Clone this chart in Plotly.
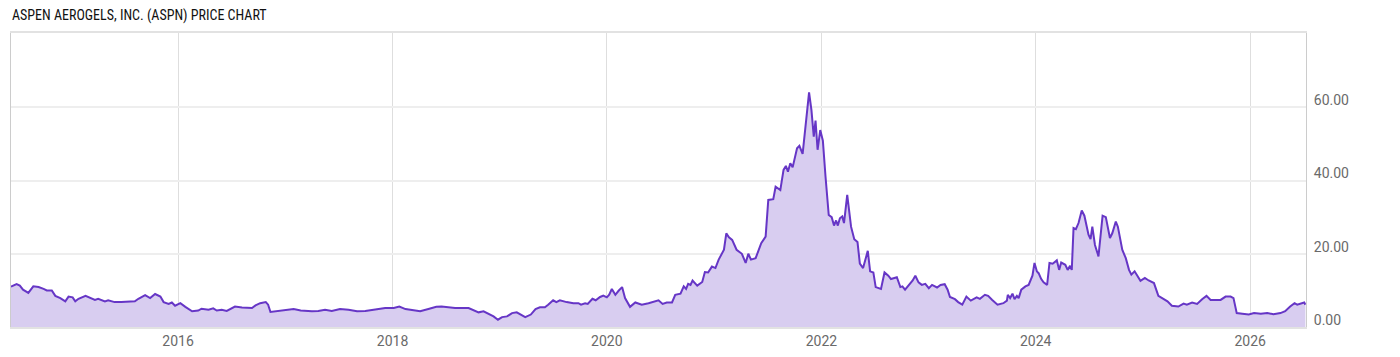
import plotly.graph_objects as go

title_text = "ASPEN AEROGELS, INC. (ASPN) PRICE CHART"

dates = [
    "2014-06-11", "2014-06-13", "2014-06-30", "2014-07-11", "2014-07-22", "2014-08-09", "2014-08-26",
    "2014-09-13", "2014-09-30", "2014-10-11", "2014-10-28", "2014-11-09", "2014-11-26", "2014-12-13",
    "2014-12-24", "2015-01-07", "2015-01-16", "2015-01-27", "2015-02-20", "2015-03-07", "2015-03-24",
    "2015-04-04", "2015-04-27", "2015-05-08", "2015-05-30", "2015-06-22", "2015-07-15", "2015-08-07",
    "2015-08-19", "2015-09-11", "2015-09-28", "2015-10-15", "2015-11-02", "2015-11-13", "2015-11-30",
    "2015-12-11", "2015-12-22", "2016-01-09", "2016-01-26", "2016-02-18", "2016-03-10", "2016-03-21",
    "2016-04-14", "2016-04-30", "2016-05-12", "2016-05-29", "2016-06-15", "2016-06-27",
    "2016-07-13", "2016-08-06", "2016-09-09", "2016-09-21", "2016-10-07", "2016-10-26", "2016-11-03",
    "2016-11-11", "2016-11-28", "2016-12-20", "2017-01-29", "2017-02-22", "2017-04-01", "2017-04-23",
    "2017-05-16", "2017-06-08", "2017-07-06", "2017-08-04", "2017-09-02", "2017-09-30", "2017-11-04",
    "2017-12-07", "2018-01-05", "2018-01-24", "2018-02-14", "2018-03-07", "2018-04-05", "2018-05-03",
    "2018-05-30", "2018-06-17", "2018-07-10",
    "2018-08-02", "2018-09-17", "2018-10-04", "2018-10-21", "2018-11-07", "2018-11-24", "2018-12-11",
    "2018-12-26", "2019-01-09", "2019-01-26", "2019-02-12", "2019-02-28", "2019-03-16", "2019-03-29",
    "2019-04-17", "2019-05-03", "2019-05-18", "2019-06-04", "2019-06-15", "2019-07-02", "2019-07-13",
    "2019-07-25", "2019-08-17", "2019-09-09", "2019-09-26", "2019-10-05", "2019-10-19", "2019-10-28",
    "2019-11-13", "2019-11-24", "2019-12-09", "2019-12-20", "2020-01-01", "2020-01-09", "2020-01-18",
    "2020-01-30", "2020-02-10", "2020-02-22", "2020-03-03", "2020-03-20", "2020-04-07", "2020-04-29",
    "2020-05-22", "2020-06-08", "2020-06-25", "2020-07-09", "2020-07-23",
    "2020-08-10", "2020-08-21", "2020-09-08", "2020-09-19", "2020-09-27", "2020-10-04", "2020-10-12",
    "2020-10-19", "2020-11-04", "2020-11-21", "2020-11-30", "2020-12-11", "2020-12-24", "2021-01-05",
    "2021-01-16", "2021-02-03", "2021-02-11", "2021-02-20", "2021-03-03", "2021-03-18", "2021-04-05",
    "2021-04-18", "2021-04-27", "2021-05-06", "2021-05-22", "2021-06-10", "2021-06-25", "2021-07-04",
    "2021-07-21", "2021-07-29", "2021-08-14", "2021-08-25", "2021-09-02", "2021-09-09", "2021-09-17",
    "2021-09-25", "2021-10-10", "2021-10-18", "2021-10-29", "2021-11-08", "2021-11-20", "2021-11-28",
    "2021-12-06", "2021-12-12", "2021-12-19", "2021-12-28", "2022-01-06", "2022-01-15", "2022-01-26",
    "2022-02-05", "2022-02-13", "2022-02-20", "2022-02-26", "2022-03-05", "2022-03-13", "2022-03-19",
    "2022-03-30", "2022-04-12", "2022-04-23", "2022-05-04", "2022-05-12", "2022-05-23", "2022-06-08",
    "2022-06-16", "2022-06-27", "2022-07-05", "2022-07-23", "2022-08-04", "2022-08-17",
    "2022-08-26", "2022-09-10", "2022-09-15", "2022-09-27", "2022-10-04", "2022-10-13", "2022-10-30",
    "2022-11-08", "2022-11-17", "2022-11-28", "2022-12-09", "2022-12-21", "2023-01-02", "2023-01-13",
    "2023-01-30", "2023-02-11", "2023-02-25", "2023-03-07", "2023-03-15", "2023-04-01", "2023-04-12",
    "2023-04-26", "2023-05-10", "2023-05-25", "2023-06-14", "2023-06-25", "2023-07-12", "2023-07-23",
    "2023-08-06", "2023-08-24", "2023-09-13", "2023-09-25", "2023-09-28", "2023-10-06", "2023-10-14",
    "2023-10-21", "2023-10-29", "2023-11-04", "2023-11-13", "2023-11-27", "2023-12-08", "2023-12-17",
    "2023-12-21", "2023-12-28", "2024-01-05", "2024-01-11", "2024-01-20", "2024-01-28", "2024-02-09",
    "2024-02-17", "2024-02-28", "2024-03-13", "2024-03-21", "2024-03-28", "2024-04-11", "2024-04-19",
    "2024-04-27", "2024-05-03", "2024-05-09", "2024-05-17", "2024-05-26", "2024-06-06", "2024-06-15",
    "2024-06-29", "2024-07-06", "2024-07-12", "2024-07-21", "2024-08-02", "2024-08-16", "2024-08-27",
    "2024-09-10", "2024-09-18", "2024-09-30", "2024-10-07", "2024-10-22", "2024-11-03", "2024-11-14",
    "2024-11-22", "2024-12-03", "2024-12-23", "2025-01-07", "2025-01-20", "2025-02-07", "2025-02-22",
    "2025-03-11", "2025-03-25", "2025-04-09", "2025-05-01", "2025-05-19", "2025-05-30", "2025-06-17",
    "2025-07-04", "2025-07-21", "2025-08-05", "2025-08-19", "2025-09-05", "2025-09-22", "2025-10-09",
    "2025-10-26", "2025-11-05", "2025-11-16", "2025-12-05", "2025-12-27", "2026-01-14", "2026-02-06",
    "2026-02-28", "2026-03-21", "2026-04-14", "2026-04-30", "2026-05-17", "2026-06-01", "2026-06-10",
    "2026-06-23", "2026-07-04", "2026-07-08",
]

close_prices = [
    11.0, 11.1, 11.7, 11.3, 10.2, 9.3, 11.1,
    10.9, 10.4, 10.0, 10.0, 8.5, 7.9, 7.0,
    8.3, 8.1, 7.0, 7.7, 8.5, 7.9, 7.4,
    7.7, 7.0, 7.3, 6.8, 6.8, 6.8, 7.0,
    7.7, 8.7, 7.9, 9.0, 8.3, 6.8, 6.3,
    6.7, 5.8, 6.5, 5.5, 4.3, 4.5, 5.0,
    4.7, 5.1, 4.5, 4.7, 4.4, 5.0,
    5.6, 5.3, 5.2, 5.9, 6.5, 6.8, 6.1,
    4.1, 4.3, 4.4, 4.9, 4.5, 4.3, 4.4,
    4.7, 4.4, 4.9, 4.7, 4.3, 4.4, 4.9,
    5.2, 5.2, 5.6, 4.9, 4.7, 4.3, 4.9,
    5.5, 5.6, 5.3,
    5.2, 5.2, 4.7, 4.0, 4.3, 3.6, 2.9,
    2.0, 2.7, 2.9, 3.8, 4.0, 3.4, 2.7,
    3.4, 4.9, 5.4, 5.4, 6.1, 7.3, 6.8,
    7.3, 6.8, 6.5, 6.5, 6.1, 6.5, 6.3,
    7.7, 7.3, 8.2, 8.6, 8.1, 8.8, 10.4,
    8.8, 9.9, 10.9, 7.9, 5.5, 6.7, 6.1,
    6.5, 6.8, 7.3, 6.3, 6.7,
    6.7, 8.8, 9.1, 11.1, 10.4, 11.8, 11.5,
    12.7, 11.3, 12.3, 15.0, 14.9, 16.5, 16.1,
    18.4, 21.1, 25.6, 24.5, 23.8, 21.1, 20.0,
    17.5, 20.0, 18.4, 18.8, 22.9, 24.7, 34.7,
    34.9, 38.3, 37.4, 42.9, 44.0, 42.4, 44.7,
    43.6, 48.8, 49.5, 47.3, 55.6, 64.1, 59.3,
    52.0, 56.4, 48.4, 53.8, 50.9, 41.1, 30.6,
    30.0, 27.7, 29.1, 27.7, 29.7, 30.2, 28.4,
    36.1, 27.4, 24.0, 23.2, 17.3, 16.1, 20.8,
    15.2, 14.9, 10.9, 10.4, 14.9, 14.0,
    13.1, 13.4, 13.6, 10.9, 11.1, 10.2, 11.8,
    12.7, 14.0, 12.2, 11.5, 11.8, 10.6, 11.5,
    10.8, 11.5, 11.7, 10.2, 8.2, 7.6, 6.8,
    6.1, 8.3, 7.2, 8.1, 7.7, 8.8, 8.5,
    7.4, 6.1, 6.5, 7.2, 8.8, 7.9, 9.1,
    7.6, 8.5, 7.9, 10.2, 11.1, 11.5, 13.4,
    14.0, 17.5, 15.2, 14.7, 13.1, 12.2, 11.5,
    17.5, 17.3, 18.2, 15.6, 17.6, 17.0, 15.6,
    16.7, 15.6, 27.0, 26.7, 28.4, 31.8, 30.4,
    25.2, 24.0, 27.4, 22.4, 19.3, 30.4, 30.0,
    24.3, 25.6, 28.8, 27.4, 21.1, 18.8, 15.6,
    14.3, 15.2, 12.6, 13.4, 12.7, 12.0, 8.5,
    7.6, 7.0, 5.8, 5.6, 6.4, 6.1, 6.7,
    6.3, 7.6, 8.5, 7.4, 7.3, 7.4, 8.3,
    8.3, 7.9, 3.8, 3.6, 3.4, 3.8, 3.6,
    3.8, 3.5, 3.8, 4.3, 5.6, 6.5, 6.1,
    6.4, 6.7, 6.1,
]

x_range = ["2014-06-11", "2026-07-10"]
y_range = [0, 80.3]
y_ticks = [0, 20, 40, 60]

fig = go.Figure()
fig.add_trace(go.Scatter(
    x=dates, y=close_prices, mode="lines",
    line=dict(color="#6636c6", width=2),
    fill="tozeroy", fillcolor="#d8cdf0",
    hoverinfo="skip",
))

fig.update_layout(
    width=1400, height=357,
    margin=dict(l=11, r=94, t=33, b=30),
    paper_bgcolor="white", plot_bgcolor="white",
    showlegend=False,
    font=dict(family="Roboto, sans-serif", size=14, color="#666666"),
    annotations=[dict(
        text=title_text, xref="paper", yref="paper", x=-0.0005, y=1.0,
        xanchor="left", yanchor="bottom", yshift=7, showarrow=False,
        font=dict(family="Liberation Sans Narrow, Roboto Condensed, DejaVu Sans Condensed, Roboto",
                  size=14, color="#111111"),
    )],
    xaxis=dict(
        type="date", range=x_range, automargin=False,
        tick0="2016-01-01", dtick="M24", tickformat="%Y",
        showgrid=True, gridcolor="#dedede", gridwidth=1,
        showline=True, linecolor="#e2e2e2", linewidth=2, mirror=True,
        ticks="", zeroline=False, ticklabelstandoff=0,
        tickfont=dict(size=14, color="#6a6a6a"),
    ),
    yaxis=dict(
        range=y_range, side="right", automargin=False,
        tickvals=y_ticks, tickformat=".2f",
        showgrid=True, gridcolor="#eeeeee", gridwidth=2,
        showline=True, linecolor="#cccccc", linewidth=1, mirror=True,
        ticks="", zeroline=False,
        ticklabelshift=-7, ticklabelstandoff=4,
        tickfont=dict(size=14, color="#6a6a6a"),
    ),
)

fig.write_html("out.html")
